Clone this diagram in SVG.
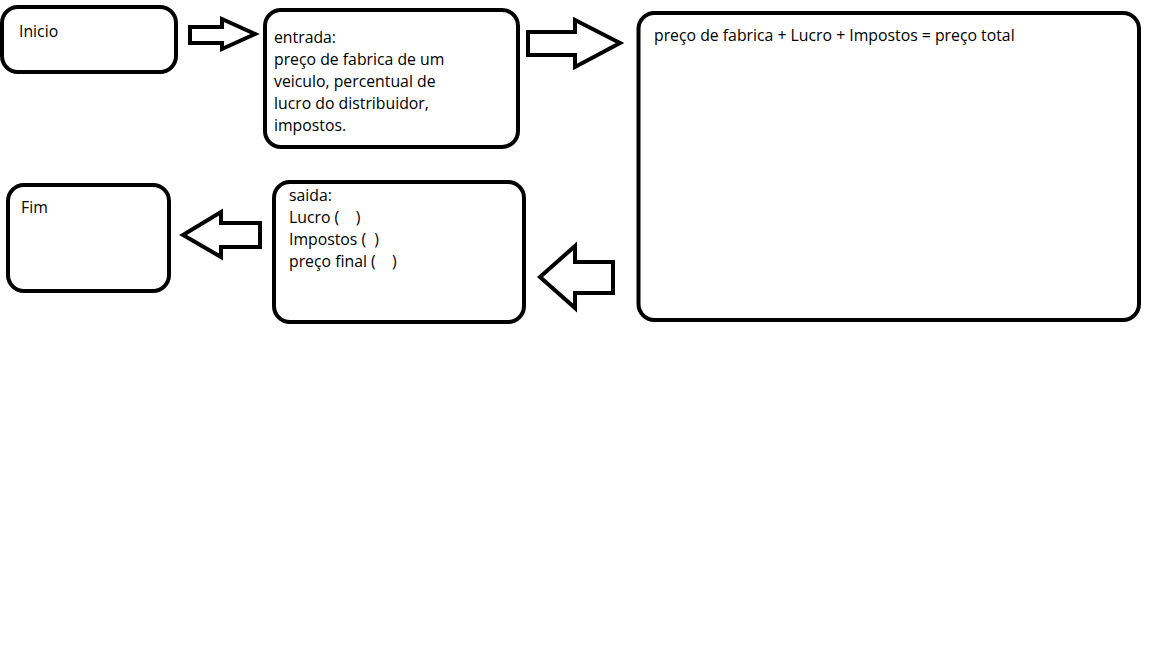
<svg xmlns="http://www.w3.org/2000/svg" width="1152" height="648" viewBox="0 0 1152 648">
<style>
.box{fill:#fff;stroke:#000;stroke-width:4}
.arr{fill:#fff;stroke:#000;stroke-width:4;stroke-linejoin:miter}
text{font-family:"Open Sans","Noto Sans","Liberation Sans",sans-serif;font-size:15.8px;fill:#000;white-space:pre}
</style>
<rect width="1152" height="648" fill="#fff"/>
<g id="inicio"><rect class="box" x="2" y="7" width="174" height="65" rx="16"/><text x="19" y="37">Inicio</text></g>
<g id="entrada"><rect class="box" x="265" y="10" width="253" height="137" rx="16"/>
<text x="274" y="43">entrada:</text><text x="274" y="65">preço de fabrica de um</text><text x="274" y="87">veiculo, percentual de</text><text x="274" y="109">lucro do distribuidor,</text><text x="274" y="131">impostos.</text></g>
<g id="processo"><rect class="box" x="638.5" y="13" width="500.5" height="307" rx="16"/><text x="654" y="41">preço de fabrica + Lucro + Impostos = preço total</text></g>
<g id="saida"><rect class="box" x="274" y="182" width="250" height="140" rx="16"/>
<text x="289" y="201" xml:space="preserve">saida:</text><text x="289" y="223" xml:space="preserve">Lucro (    )</text><text x="289" y="245" xml:space="preserve">Impostos (  )</text><text x="289" y="267" xml:space="preserve">preço final (    )</text></g>
<g id="fim"><rect class="box" x="8" y="185" width="161" height="106" rx="16"/><text x="21" y="213">Fim</text></g>
<g id="connectors">
<polygon class="arr" points="190,27 222,27 222,19 255,34 222,49 222,43 190,43"/>
<polygon class="arr" points="528,32 575,32 575,20 620,43 575,67 575,55 528,55"/>
<polygon class="arr" points="613,262 575,262 575,246 540,277 575,308 575,293 613,293"/>
<polygon class="arr" points="260,223 221,223 221,212 183,235 221,257 221,247 260,247"/>
</g>
</svg>
